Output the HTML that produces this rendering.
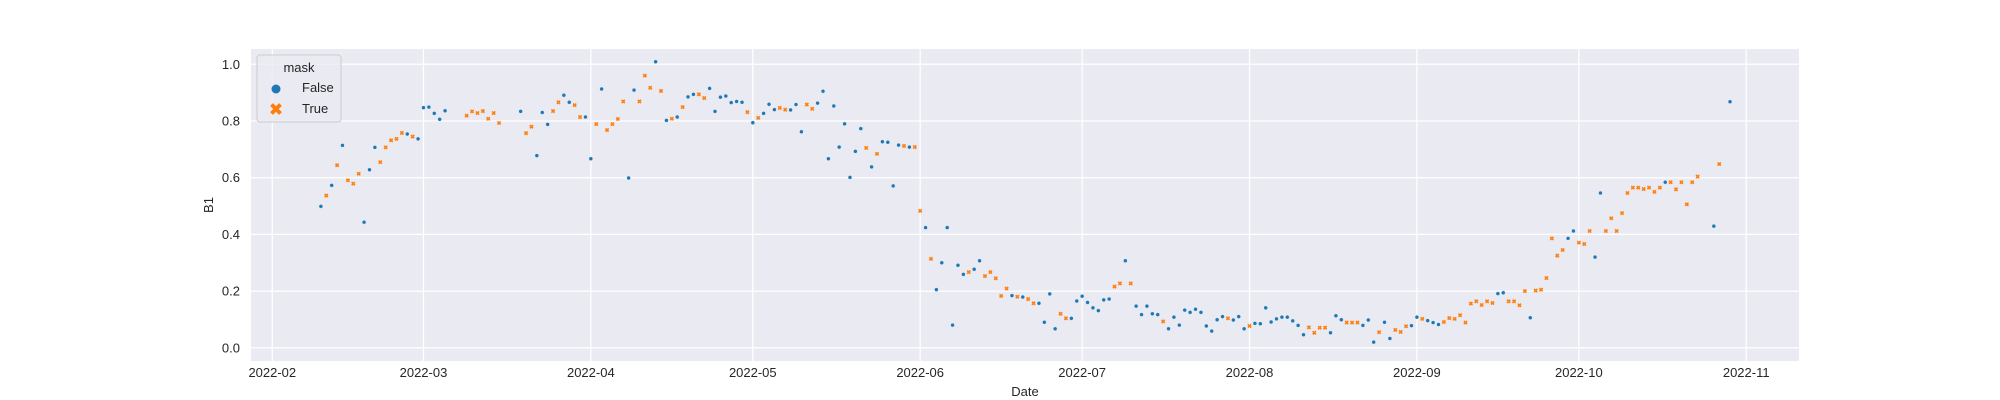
<!DOCTYPE html>
<html><head><meta charset="utf-8">
<style>
html,body{margin:0;padding:0;background:#fff;}
svg{display:block;font-family:"Liberation Sans",Arial,sans-serif;}
</style></head>
<body>
<svg id="chart" width="2000" height="400" viewBox="0 0 2000 400">
  <rect x="251" y="49" width="1548" height="312" fill="#eaeaf2"/>
  <g id="grid"></g>
  <g id="xticks"></g>
  <g id="yticks"></g>
  <g id="points"></g>
  <text x="1025" y="396" font-size="13" fill="#262626" text-anchor="middle">Date</text>
  <text x="0" y="0" font-size="13" fill="#262626" text-anchor="middle" transform="translate(213,205) rotate(-90)">B1</text>
  <g>
    <rect x="257" y="55" width="84" height="67" rx="3" fill="#eaeaf2" fill-opacity="0.8" stroke="#cccccc" stroke-width="1"/>
    <text x="299" y="72" font-size="13" fill="#262626" text-anchor="middle">mask</text>
    <circle cx="276" cy="89" r="4.5" fill="#1f77b4"/>
    <text x="302" y="92" font-size="13" fill="#262626">False</text>
    <path d="M271.5,104.5 L280.5,113.5 M280.5,104.5 L271.5,113.5" stroke="#ff7f0e" stroke-width="4"/>
    <text x="302" y="113" font-size="13" fill="#262626">True</text>
  </g>
</svg>
<script>
const days = [9,10,11,12,13,14,15,16,17,18,19,20,21,22,23,24,25,26,27,28,29,30,31,32,36,37,38,39,40,41,42,46,47,48,49,50,51,52,53,54,55,56,57,58,59,60,61,62,63,64,65,66,67,68,69,70,71,72,73,74,75,76,77,78,79,80,81,82,83,84,85,86,87,88,89,90,91,92,93,94,95,96,97,98,99,100,101,102,103,104,105,106,107,108,109,110,111,112,113,114,115,116,117,118,119,120,121,122,123,124,125,126,127,128,129,130,131,132,133,134,135,136,137,138,139,140,141,142,143,144,145,146,147,148,149,150,151,152,153,154,155,156,157,158,159,160,161,162,163,164,165,166,167,168,169,170,171,172,173,174,175,176,177,178,179,180,181,182,183,184,185,186,187,188,189,190,191,192,193,194,195,196,197,198,199,200,201,202,203,204,205,206,207,208,209,210,211,212,213,214,215,216,217,218,219,220,221,222,223,224,225,226,227,228,229,230,231,232,233,234,235,236,237,238,239,240,241,242,243,244,245,246,247,248,249,250,251,252,253,254,255,256,257,258,259,260,261,262,263,264,267,268,270];
const values = [.499,.537,.573,.644,.714,.591,.579,.614,.443,.628,.707,.655,.707,.732,.737,.758,.754,.745,.737,.847,.849,.827,.806,.836,.819,.834,.828,.835,.808,.828,.793,.834,.757,.780,.678,.830,.788,.835,.866,.891,.866,.856,.814,.814,.667,.789,.913,.768,.789,.807,.869,.599,.909,.869,.960,.917,1.009,.906,.802,.808,.814,.849,.885,.894,.894,.881,.915,.834,.884,.888,.865,.869,.866,.831,.794,.811,.827,.859,.840,.846,.840,.839,.858,.762,.858,.843,.863,.905,.667,.853,.708,.790,.601,.693,.773,.705,.638,.684,.727,.725,.571,.715,.712,.708,.708,.483,.424,.314,.205,.300,.424,.080,.291,.259,.267,.277,.307,.253,.267,.245,.183,.209,.184,.180,.179,.172,.157,.157,.090,.190,.067,.120,.104,.104,.165,.182,.160,.141,.131,.169,.172,.216,.227,.307,.227,.147,.117,.147,.120,.117,.093,.067,.108,.080,.133,.125,.136,.125,.077,.059,.099,.110,.104,.098,.110,.067,.077,.086,.085,.141,.091,.102,.108,.108,.095,.079,.046,.072,.053,.071,.071,.053,.113,.099,.089,.089,.089,.079,.098,.020,.055,.090,.033,.063,.056,.076,.078,.108,.102,.096,.089,.082,.091,.105,.102,.115,.089,.156,.164,.151,.164,.158,.191,.194,.164,.164,.150,.200,.106,.202,.205,.246,.386,.325,.345,.386,.412,.371,.366,.412,.320,.546,.412,.457,.412,.475,.546,.565,.565,.560,.565,.550,.565,.584,.584,.559,.584,.506,.584,.604,.429,.648,.868];
const masks = [
0,1,0,1,0,1,1,1,0,0,0,1,1,1,1,1,0,1,0,0,0,0,0,0,
1,1,1,1,1,1,1,
0,1,1,0,0,0,1,1,0,0,
1,1,0,0,1,0,1,1,1,1,
0,0,1,1,1,0,1,0,1,0,
1,0,0,1,1,0,0,0,0,0,
0,0,1,0,1,0,0,0,1,1,
0,0,0,1,1,0,0,0,0,0,
0,0,0,0,1,0,1,0,0,0,
0,1,0,1,1,0,1,0,0,0,
0,0,0,1,0,0,1,1,1,1,
1,0,1,0,1,1,0,0,0,0,
1,1,0,0,0,0,0,0,0,0,
1,1,0,1,0,0,0,0,0,1,
0,0,0,0,0,0,0,0,0,0,
0,1,0,0,0,1,0,0,0,0,
0,0,0,0,0,0,1,1,1,1,
0,0,0,1,1,1,0,0,0,1,
0,0,1,1,1,0,0,1,0,0,
0,1,1,1,1,1,1,1,1,1,
1,0,0,1,1,1,1,0,1,1,
1,1,1,1,0,0,1,1,1,0,
0,1,1,1,1,1,1,1,1,1,
1,1,0,1,1,1,1,1,1,
0,1,0];
const xTickDays = [0,28,59,89,120,150,181,212,242,273];
const xTickLabels = ["2022-02","2022-03","2022-04","2022-05","2022-06","2022-07","2022-08","2022-09","2022-10","2022-11"];
const yTickValues = [0.0,0.2,0.4,0.6,0.8,1.0];
const yTickLabels = ["0.0","0.2","0.4","0.6","0.8","1.0"];

const NS = "http://www.w3.org/2000/svg";
const PX_PER_DAY = 5.399, X0 = 272.3;
const Y0 = 347.8, Y1 = 64.3;
function xScale(d){ return X0 + d * PX_PER_DAY; }
function yScale(v){ return Y0 + (Y1 - Y0) * v; }
function mk(tag, attrs){ const e = document.createElementNS(NS, tag); for (const k in attrs) e.setAttribute(k, attrs[k]); return e; }

const grid = document.getElementById('grid');
const xt = document.getElementById('xticks');
const yt = document.getElementById('yticks');
const pts = document.getElementById('points');

xTickDays.forEach((d, i) => {
  const x = xScale(d);
  const l = mk('line', {x1:x, x2:x, y1:49, y2:361, stroke:'#ffffff', 'stroke-width':1.25});
  
  
  grid.appendChild(l);
  const t = mk('text', {x:x, y:377, 'font-size':13, fill:'#262626', 'text-anchor':'middle'});
  t.textContent = xTickLabels[i];
  
  
  xt.appendChild(t);
});
yTickValues.forEach((v, i) => {
  const y = yScale(v);
  const l = mk('line', {x1:251, x2:1799, y1:y, y2:y, stroke:'#ffffff', 'stroke-width':1.25});
  
  
  grid.appendChild(l);
  const t = mk('text', {x:240, y:y + 4.5, 'font-size':13, fill:'#262626', 'text-anchor':'end'});
  t.textContent = yTickLabels[i];
  
  
  yt.appendChild(t);
});
days.forEach((d, i) => {
  const x = xScale(d), y = yScale(values[i]);
  let e;
  if (masks[i]) {
    e = mk('path', {d:`M${x-1.6},${y-1.6}L${x+1.6},${y+1.6}M${x+1.6},${y-1.6}L${x-1.6},${y+1.6}`, stroke:'#ff7f0e', 'stroke-width':1.6});
    
  } else {
    e = mk('circle', {cx:x, cy:y, r:2, fill:'#1f77b4', stroke:'#ffffff', 'stroke-width':0.4});
    
  }
  
  pts.appendChild(e);
});
</script>
</body></html>
